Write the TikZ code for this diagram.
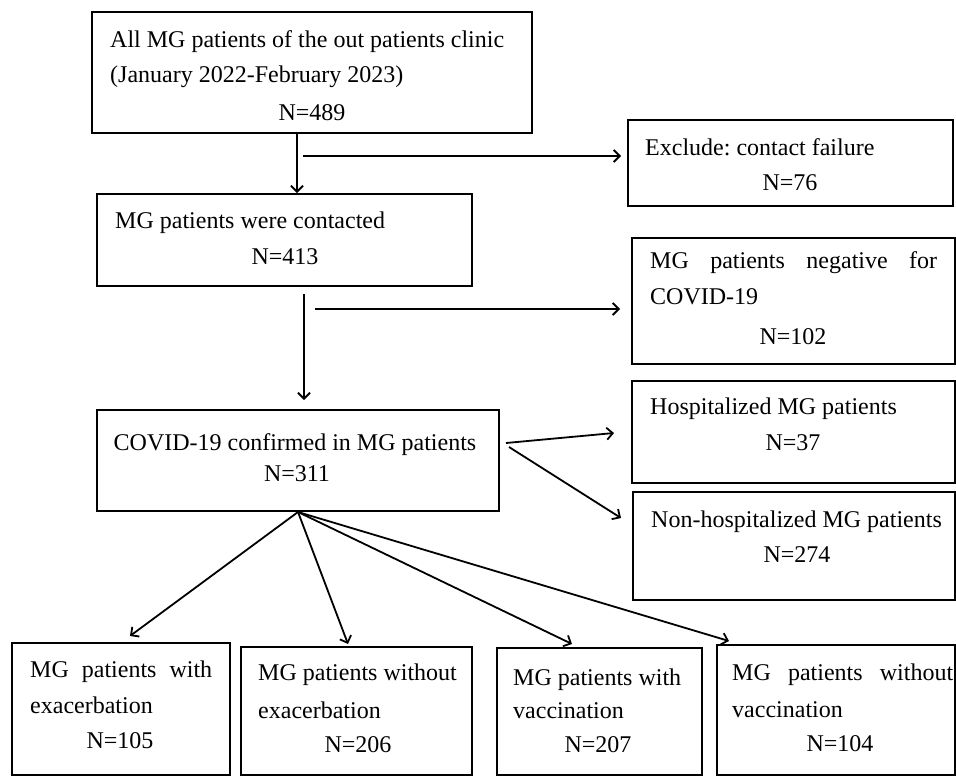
\documentclass[tikz,border=0pt]{standalone}
\usepackage{fontspec}
\setmainfont{Liberation Serif}
\frenchspacing
\usetikzlibrary{arrows.meta,calc}
\begin{document}
\begin{tikzpicture}[x=1pt,y=-1pt,
  box/.style={draw, line width=2pt, rectangle, inner sep=0pt},
  txt/.style={inner sep=0pt, font=\fontsize{24}{28}\selectfont},
  arr/.style={line width=1.8pt, -{Straight Barb[length=6pt,width=12pt,line width=1.8pt]}},
  ln/.style={line width=1.8pt}]
\useasboundingbox (0,0) rectangle (956,777);
\fill[white] (0,0) rectangle (956,777);
% boxes
\node[box, minimum width=440pt, minimum height=121pt] (b1) at (312,72.5) {};
\node[box, minimum width=325pt, minimum height=86pt] (ex) at (790.5,163) {};
\node[box, minimum width=375pt, minimum height=92pt] (b2) at (284.5,240) {};
\node[box, minimum width=323pt, minimum height=126pt] (neg) at (793.5,301) {};
\node[box, minimum width=402pt, minimum height=101pt] (cov) at (298,460.5) {};
\node[box, minimum width=323pt, minimum height=102pt] (hosp) at (793.5,432) {};
\node[box, minimum width=322pt, minimum height=108pt] (non) at (794,546) {};
\node[box, minimum width=218pt, minimum height=132pt] (e1) at (121,709) {};
\node[box, minimum width=231pt, minimum height=128pt] (e2) at (356.5,711) {};
\node[box, minimum width=205pt, minimum height=127pt] (v1) at (599.5,711.5) {};
\node[box, minimum width=238pt, minimum height=130pt] (v2) at (836,710) {};
% texts
\node[txt, anchor=west] (t1a) at (110,42) {All MG patients of the out patients clinic};
\node[txt, anchor=west] (t1b) at (110,77) {(January 2022-February 2023)};
\node[txt] (t1c) at (312,113) {N=489};
\node[txt, anchor=west] (tea) at (645,147) {Exclude: contact failure};
\node[txt] (teb) at (790,183) {N=76};
\node[txt, anchor=west] (t2a) at (115,223) {MG patients were contacted};
\node[txt] (t2b) at (285,257) {N=413};
\node[txt, anchor=west] (tna) at (650,263) {\makebox[287pt][s]{MG patients negative for}};
\node[txt, anchor=west] (tnb) at (650,297) {COVID-19};
\node[txt] (tnc) at (793,337) {N=102};
\node[txt] (tca) at (295,445) {COVID-19 confirmed in MG patients};
\node[txt] (tcb) at (297,474) {N=311};
\node[txt, anchor=west] (tha) at (650,409) {Hospitalized MG patients};
\node[txt] (thb) at (793,443) {N=37};
\node[txt, anchor=west] (tha2) at (651,522) {Non-hospitalized MG patients};
\node[txt] (thb2) at (797,555) {N=274};
\node[txt, anchor=west] (te1a) at (30,672) {\makebox[182pt][s]{MG patients with}};
\node[txt, anchor=west] (te1b) at (30,705) {exacerbation};
\node[txt] (te1c) at (120,741) {N=105};
\node[txt, anchor=west] (te2a) at (258,675) {MG patients without};
\node[txt, anchor=west] (te2b) at (258,710) {exacerbation};
\node[txt] (te2c) at (358,745) {N=206};
\node[txt, anchor=west] (tv1a) at (513,680) {MG patients with};
\node[txt, anchor=west] (tv1b) at (513,711) {vaccination};
\node[txt] (tv1c) at (598,745) {N=207};
\node[txt, anchor=west] (tv2a) at (732,675) {\makebox[221pt][s]{MG patients without}};
\node[txt, anchor=west] (tv2b) at (732,710) {vaccination};
\node[txt] (tv2c) at (840,744) {N=104};
% connectors
\coordinate (x1) at (297,0);
\draw[arr] (b1.south -| x1) -- (b2.north -| x1);
\coordinate (s1) at (303,156);
\draw[arr, shorten >=6pt] (s1) -- (s1 -| ex.west);
\coordinate (x2) at (304,0);
\draw[arr, shorten <=7pt, shorten >=9pt] (b2.south -| x2) -- (cov.north -| x2);
\coordinate (s2) at (315,309);
\draw[arr, shorten >=11pt] (s2) -- (s2 -| neg.west);
\draw[arr] ($(cov.east)+(6,-17.5)$) -- ($(hosp.west)+(-17,1)$);
\draw[arr] ($(cov.east)+(9,-13.5)$) -- ($(non.west)+(-11,-28)$);
\draw[arr] (cov.south) -- ($(e1.north)+(9,-6)$);
\draw[arr] (cov.south) -- ($(e2.north)+(-8.5,-2)$);
\draw[arr] (cov.south) -- ($(v1.north)+(-27.5,-3)$);
\draw[arr] (cov.south) -- ($(v2.north west)+(13,-3)$);
\end{tikzpicture}
\end{document}
